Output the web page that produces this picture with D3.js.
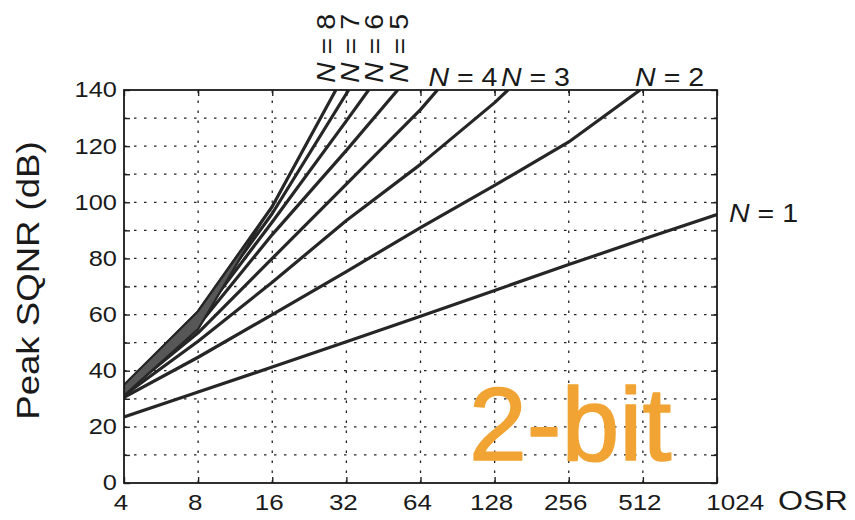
<!DOCTYPE html>
<html lang="en">
<head>
<meta charset="utf-8">
<title>Peak SQNR vs OSR</title>
<style>
  body { margin: 0; background: #fff; }
  svg { display: block; font-family: "Liberation Sans", Arial, sans-serif; }
</style>
</head>
<body>
<svg id="chart" width="855" height="520"></svg>
<script src="https://d3js.org/d3.v7.min.js"></script>
<script>
// axis values
var osrTicks = [4, 8, 16, 32, 64, 128, 256, 512, 1024];
var sqnrTicks = [0, 20, 40, 60, 80, 100, 120, 140];
var sqnrMinor = [0, 10, 20, 30, 40, 50, 60, 70, 80, 90, 100, 110, 120, 130, 140];
var sqnrGrid = [10, 20, 30, 40, 50, 60, 70, 80, 90, 100, 110, 120, 130];

// peak SQNR (dB) vs OSR, one array per modulator order N, [osr, dB]
var sqnrN1 = [[4, 23.5], [8, 32.4], [16, 41.3], [32, 50.3], [64, 59.4], [128, 68.6], [256, 77.8], [512, 86.8], [1024, 95.6]];
var sqnrN2 = [[4, 30.5], [8, 44.8], [16, 60], [32, 75.3], [64, 91], [128, 106], [256, 121.5], [499, 140]];
var sqnrN3 = [[4, 31.2], [8, 50.5], [16, 71.5], [32, 93.5], [64, 113.5], [128, 135.5], [145, 140]];
var sqnrN4 = [[4, 32], [8, 53.5], [16, 80], [32, 106.5], [64, 133], [75, 140]];
var sqnrN5 = [[4, 32.8], [8, 56], [16, 88.5], [32, 118.5], [51.7, 140]];
var sqnrN6 = [[4, 33.5], [8, 58], [16, 93], [32, 129], [39.4, 140]];
var sqnrN7 = [[4, 34], [8, 59.5], [16, 96], [32.7, 140]];
var sqnrN8 = [[4, 34.5], [8, 61], [16, 98.5], [29, 140]];
var orders = [1, 2, 3, 4, 5, 6, 7, 8];
var seriesData = [sqnrN1, sqnrN2, sqnrN3, sqnrN4, sqnrN5, sqnrN6, sqnrN7, sqnrN8];

// dark band where the high-order curves run together
var shadeTop = [[4, 35], [8, 61.2], [14.8, 94.3]];
var shadeBottom = [[4, 31.2], [8, 54.8], [14.8, 94.3]];

var svg = d3.select('#chart');
var margin = {top: 90, right: 138, bottom: 37, left: 124};
var width = +svg.attr('width'), height = +svg.attr('height');

var x = d3.scaleLog().base(2)
    .domain([4, 1024])
    .range([margin.left, width - margin.right]);
var y = d3.scaleLinear()
    .domain([0, 140])
    .range([height - margin.bottom, margin.top]);

svg.append('rect').attr('width', width).attr('height', height).attr('fill', '#fff');

svg.append('clipPath').attr('id', 'plot-clip')
  .append('rect')
    .attr('x', x(4)).attr('y', y(140))
    .attr('width', x(1024) - x(4)).attr('height', y(0) - y(140));

// dotted grid
var grid = svg.append('g')
    .attr('stroke', '#222')
    .attr('stroke-width', 1.3)
    .attr('stroke-dasharray', '2.5,7.5');
grid.selectAll('line.v')
  .data(osrTicks.slice(1, -1))
  .enter().append('line')
    .attr('class', 'v')
    .attr('x1', function(d) { return x(d); })
    .attr('x2', function(d) { return x(d); })
    .attr('y1', y(0)).attr('y2', y(140));
grid.selectAll('line.h')
  .data(sqnrGrid)
  .enter().append('line')
    .attr('class', 'h')
    .attr('x1', x(4)).attr('x2', x(1024))
    .attr('y1', function(d) { return y(d); })
    .attr('y2', function(d) { return y(d); });

var line = d3.line()
    .x(function(d) { return x(d[0]); })
    .y(function(d) { return y(d[1]); });

var plot = svg.append('g').attr('clip-path', 'url(#plot-clip)');

plot.selectAll('path.curve')
  .data(seriesData)
  .enter().append('path')
    .attr('class', 'curve')
    .attr('d', line)
    .attr('fill', 'none')
    .attr('stroke', '#262626')
    .attr('stroke-width', 3.2)
    .attr('stroke-linejoin', 'round');

// the band sits over the bunched curves
plot.append('path')
    .attr('d', line(shadeTop.concat(shadeBottom.slice().reverse())) + 'Z')
    .attr('fill', '#575757')
    .attr('stroke', '#262626')
    .attr('stroke-width', 2.2)
    .attr('stroke-linejoin', 'round');

// inward ticks on all four sides
function noDomain(g) { g.select('.domain').remove(); }
svg.append('g')
    .attr('transform', 'translate(0,' + y(0) + ')')
    .call(d3.axisBottom(x).tickValues(osrTicks).tickSize(-6).tickFormat(''))
    .call(noDomain);
svg.append('g')
    .attr('transform', 'translate(0,' + y(140) + ')')
    .call(d3.axisTop(x).tickValues(osrTicks).tickSize(-6).tickFormat(''))
    .call(noDomain);
svg.append('g')
    .attr('transform', 'translate(' + x(4) + ',0)')
    .call(d3.axisLeft(y).tickValues(sqnrMinor).tickSize(-6).tickFormat(''))
    .call(noDomain);
svg.append('g')
    .attr('transform', 'translate(' + x(1024) + ',0)')
    .call(d3.axisRight(y).tickValues(sqnrMinor).tickSize(-6).tickFormat(''))
    .call(noDomain);
svg.selectAll('.tick line').attr('stroke', '#222').attr('stroke-width', 1.4);

// tick labels
var xLabels = svg.append('g')
    .attr('transform', 'translate(0,' + y(0) + ')')
    .call(d3.axisBottom(x).tickValues(osrTicks).tickSize(0).tickFormat(d3.format('d')))
    .call(noDomain);
xLabels.selectAll('text')
    .attr('y', 27).attr('dy', 0)
    .attr('dx', function(d) { return d === 1024 ? 15 : -3; })
    .attr('font-size', 22)
    .attr('fill', '#1a1a1a')
    .attr('transform', 'scale(1.18,1)');

var yLabels = svg.append('g')
    .attr('transform', 'translate(' + x(4) + ',0)')
    .call(d3.axisLeft(y).tickValues(sqnrTicks).tickSize(0))
    .call(noDomain);
yLabels.selectAll('text')
    .attr('x', -6)
    .attr('font-size', 21.5)
    .attr('fill', '#1a1a1a')
    .attr('transform', 'scale(1.18,1)');

// frame
svg.append('rect')
    .attr('x', x(4)).attr('y', y(140))
    .attr('width', x(1024) - x(4)).attr('height', y(0) - y(140))
    .attr('fill', 'none').attr('stroke', '#1a1a1a').attr('stroke-width', 1.8);

// axis titles
svg.append('g')
    .attr('transform', 'translate(' + (x(1024) + 61) + ',' + (y(0) + 27) + ')')
  .append('text')
    .attr('font-size', 28)
    .attr('fill', '#1a1a1a')
    .attr('transform', 'scale(1.15,1)')
    .text('OSR');

svg.append('g')
    .attr('transform', 'translate(39,' + ((y(0) + y(140)) / 2 - 6) + ') rotate(-90)')
  .append('text')
    .attr('text-anchor', 'middle')
    .attr('font-size', 31)
    .attr('fill', '#1a1a1a')
    .attr('transform', 'scale(1.18,1)')
    .text('Peak SQNR (dB)');

// N = ... labels at the curve ends
function nLabel(g, n) {
  var t = g.append('text')
      .attr('font-size', 25.5)
      .attr('fill', '#1a1a1a')
      .attr('transform', 'scale(1.12,1)');
  t.append('tspan').attr('font-style', 'italic').text('N');
  t.append('tspan').text(' = ' + n);
}

orders.forEach(function(n, i) {
  var pts = seriesData[i];
  var end = pts[pts.length - 1];
  var ex = x(end[0]), ey = y(end[1]);
  var g;
  if (n === 1) {
    g = svg.append('g').attr('transform', 'translate(' + (ex + 12) + ',' + (ey + 7) + ')');
  } else if (n <= 4) {
    g = svg.append('g').attr('transform', 'translate(' + (ex - 1 - 2 * n) + ',' + (y(140) - 4) + ')');
  } else {
    var x8 = x(sqnrN8[sqnrN8.length - 1][0]);
    g = svg.append('g')
        .attr('transform', 'translate(' + (x8 - 1 + (8 - n) * 24.3) + ',' + (y(140) - 7) + ') rotate(-90)');
  }
  nLabel(g, n);
});

// overlay tag
svg.append('text')
    .attr('x', 469).attr('y', 460)
    .attr('font-size', 104)
    .attr('fill', '#F1A433')
    .attr('stroke', '#F1A433')
    .attr('stroke-width', 1.6)
    .attr('stroke-linejoin', 'round')
    .text('2-bit');
</script>
</body>
</html>
